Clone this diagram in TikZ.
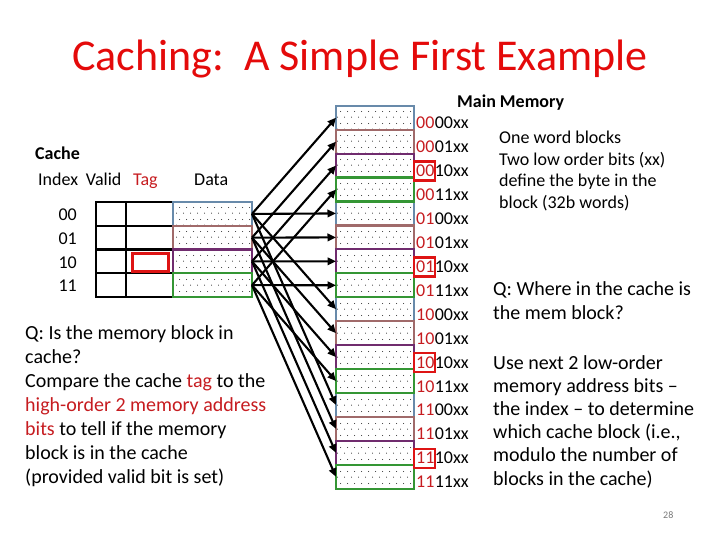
\documentclass[tikz,border=0pt]{standalone}
\usepackage{fontspec}
\setmainfont{Carlito}
\usetikzlibrary{arrows.meta,patterns.meta,calc}
\definecolor{titlered}{RGB}{228,10,10}
\definecolor{dred}{RGB}{198,28,32}
\definecolor{boxred}{RGB}{222,20,20}
\definecolor{cblue}{RGB}{104,138,170}
\definecolor{crose}{RGB}{160,106,106}
\definecolor{cpurple}{RGB}{112,44,110}
\definecolor{cgreen}{RGB}{52,150,52}
\definecolor{pgnum}{RGB}{120,120,120}
\tikzdeclarepattern{
  name=sparsedots,
  type=uncolored,
  bounding box={(0pt,0pt) and (7pt,12pt)},
  tile size={(7pt,12pt)},
  code={\fill (1.75pt,3pt) circle (0.6pt); \fill (5.25pt,9pt) circle (0.6pt);}
}
\tikzset{
  blk/.style={draw=#1, line width=2.2pt, pattern={sparsedots}, pattern color=black!85,
    minimum width=78pt, minimum height=23.94pt, inner sep=0pt, outer sep=0pt},
  cell/.style={draw=black, line width=2.2pt, minimum height=23.75pt, inner sep=0pt, outer sep=0pt},
  arr/.style={line width=2.1pt, -{Triangle[length=8.5pt,width=7.5pt]}},
  lab/.style={font=\fontsize{18}{22}\selectfont, inner sep=0pt, anchor=base west},
  para/.style={font=\fontsize{20}{24}\selectfont, inner sep=0pt, anchor=base west},
  note/.style={font=\fontsize{18}{22}\selectfont, inner sep=0pt, anchor=base west},
  redbox/.style={draw=boxred, line width=2.6pt}
}
\begin{document}
\begin{tikzpicture}[x=1pt,y=-1pt]
\useasboundingbox (0,0) rectangle (720,540);
% title
\node[anchor=base, inner sep=0pt, font=\fontsize{44}{52}\selectfont, text=titlered] (title) at (360,71) {Caching:\ \ A Simple First Example};
% cache header
\node[note, font=\bfseries\fontsize{18}{22}\selectfont] (cachehd) at (35,160) {Cache};
\node[note] (hidx) at (38,185.7) {Index};
\node[note] (hval) at (85.7,185.7) {Valid};
\node[note, text=dred] (htag) at (133,185.7) {Tag};
\node[note] (hdata) at (194,185.7) {Data};
% valid/tag cells
\foreach \r in {0,1,2,3}{
  \node[cell, minimum width=30pt] (v\r) at (111,213.9+23.75*\r) {};
  \node[cell, minimum width=47pt] (t\r) at (149.5,213.9+23.75*\r) {};
}
% data cells
\node[blk=cblue, minimum width=79pt, minimum height=23.75pt] (c0) at (212.5,213.9) {};
\node[blk=crose, minimum width=79pt, minimum height=23.75pt] (c1) at (212.5,237.65) {};
\node[blk=cpurple, minimum width=79pt, minimum height=23.75pt] (c2) at (212.5,261.4) {};
\node[blk=cgreen, minimum width=79pt, minimum height=23.75pt] (c3) at (212.5,285.15) {};
\node[draw=boxred, line width=2.6pt, minimum width=36pt, minimum height=18pt, inner sep=0pt] (tagbox) at (150.5,262.5) {};
% index labels
\foreach \r/\t in {0/00,1/01,2/10,3/11}{
  \node[lab, anchor=base east] (ix\r) at (77,220.5+23.75*\r) {\t};
}
% memory blocks
\foreach \k/\col in {0/cblue,1/crose,2/cpurple,3/cgreen}{
  \foreach \g in {0,1,2,3}{
    \pgfmathtruncatemacro\i{4*\g+\k}
    \node[blk=\col] (m\i) at (375,117.7+23.94*\i) {};
  }
}
% memory labels
\foreach \i/\hb/\lb in {0/00/00,1/00/01,2/00/10,3/00/11,4/01/00,5/01/01,6/01/10,7/01/11,
  8/10/00,9/10/01,10/10/10,11/10/11,12/11/00,13/11/01,14/11/10,15/11/11}{
  \node[lab, text=dred] (hi\i) at (416,128.7+23.94*\i) {\hb};
  \node[lab] (lo\i) at (hi\i.base east) {\lb xx};
}
\foreach \i in {2,6,10,14}{
  \draw[redbox] ($(hi\i.base west)+(-2,-15)$) rectangle ($(hi\i.base east)+(0.5,4)$);
}
% arrows
\foreach \i in {0,...,15}{
  \pgfmathtruncatemacro\k{mod(\i,4)}
  \draw[arr] (c\k.east) -- (m\i.west);
}
% main memory
\node[note, font=\bfseries\fontsize{18}{22}\selectfont] (mmhd) at (457,108) {Main Memory};
\foreach \j/\t in {0/{One word blocks},1/{Two low order bits (xx)},2/{define the byte in the},3/{block (32b words)}}{
  \node[note] (nt\j) at (499,144+21.5*\j) {\t};
}
% left paragraph
\foreach \j/\t in {0/{Q: Is the memory block in},1/{cache?},2/{Compare the cache \textcolor{dred}{tag} to the},
  3/{\textcolor{dred}{high-order 2 memory address}},4/{\textcolor{dred}{bits} to tell if the memory},
  5/{block is in the cache},6/{(provided valid bit is set)}}{
  \node[para] (lq\j) at (25,339.5+24*\j) {\t};
}
% right paragraphs
\node[para] (rq0) at (493,295) {Q: Where in the cache is};
\node[para] (rq1) at (493,319) {the mem block?};
\foreach \j/\t in {0/{Use next 2 low-order},1/{memory address bits --},2/{the index -- to determine},
  3/{which cache block (i.e.,},4/{modulo the number of},5/{blocks in the cache)}}{
  \node[para] (ra\j) at (493,369+23.2*\j) {\t};
}
\node[inner sep=0pt, anchor=base west, font=\fontsize{10}{12}\selectfont, text=pgnum] (pg) at (663,518) {28};
\end{tikzpicture}
\end{document}
